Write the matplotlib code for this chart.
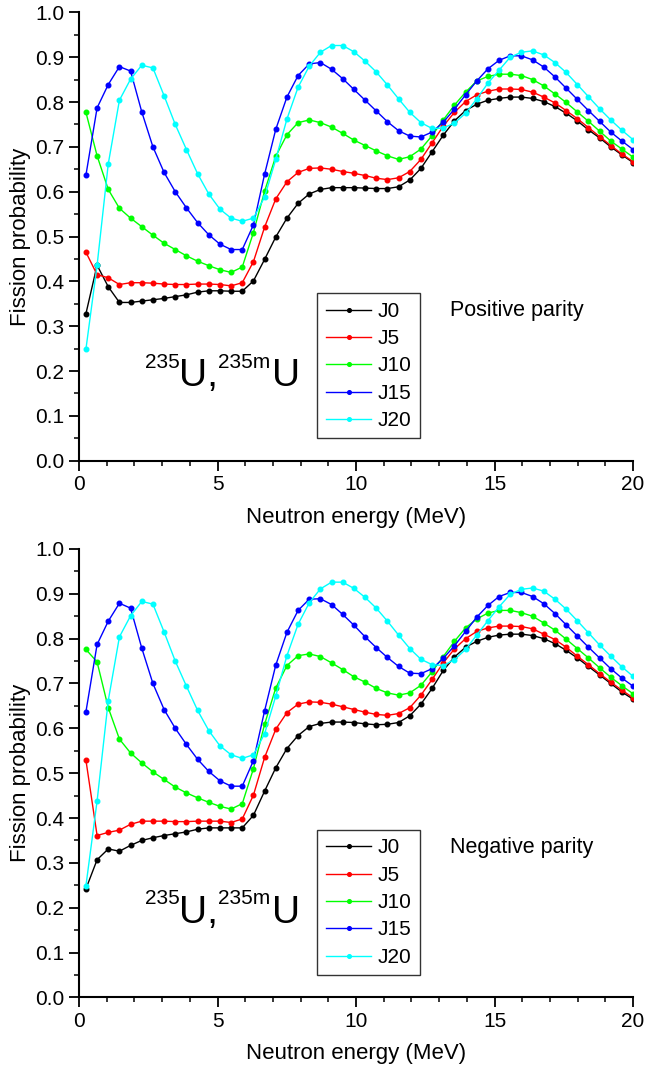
import numpy as np
import matplotlib
matplotlib.use('Agg')
import matplotlib.pyplot as plt
from matplotlib.ticker import MultipleLocator, FormatStrFormatter

plt.rcParams['font.family'] = ['Liberation Sans', 'DejaVu Sans']

# neutron energies (MeV), 50 points
energy = [0.25, 0.653, 1.056, 1.459, 1.862, 2.265, 2.668, 3.071, 3.474, 3.878,
          4.281, 4.684, 5.087, 5.490, 5.893, 6.296, 6.699, 7.102, 7.505, 7.908,
          8.311, 8.714, 9.117, 9.520, 9.923, 10.327, 10.730, 11.133, 11.536, 11.939,
          12.342, 12.745, 13.148, 13.551, 13.954, 14.357, 14.760, 15.163, 15.566, 15.969,
          16.372, 16.776, 17.179, 17.582, 17.985, 18.388, 18.791, 19.194, 19.597, 20.0]

labels = ['J0', 'J5', 'J10', 'J15', 'J20']
colors = ['black', 'red', '#00ff00', 'blue', 'cyan']

# positive parity
pos_J0 = [.328, .436, .388, .353, .353, .356, .359, .362, .366, .370, .376, .379, .379, .378, .378, .401, .449,
          .499, .541, .574, .595, .605, .609, .609, .609, .608, .607, .607, .611, .626, .652, .689, .726, .758,
          .781, .795, .804, .808, .811, .811, .808, .801, .790, .775, .758, .738, .720, .700, .682, .665]
pos_J5 = [.465, .415, .408, .393, .397, .397, .396, .394, .393, .393, .394, .394, .393, .390, .397, .444, .521,
          .584, .622, .643, .652, .653, .650, .645, .641, .636, .630, .627, .631, .645, .672, .709, .746, .777,
          .801, .816, .824, .829, .829, .828, .822, .811, .798, .781, .763, .743, .723, .703, .684, .667]
pos_J10 = [.777, .680, .605, .563, .541, .522, .503, .485, .471, .457, .445, .435, .426, .420, .432, .509, .601,
           .679, .727, .754, .760, .754, .744, .730, .715, .703, .691, .680, .672, .678, .695, .725, .760, .793,
           .822, .847, .857, .862, .862, .859, .850, .836, .818, .799, .778, .757, .735, .713, .695, .677]
pos_J15 = [.637, .787, .839, .879, .869, .778, .700, .643, .600, .564, .531, .504, .483, .471, .471, .526, .639,
           .739, .811, .859, .885, .888, .873, .852, .828, .804, .780, .756, .736, .724, .722, .733, .755, .784,
           .816, .847, .874, .893, .903, .903, .894, .878, .856, .831, .806, .781, .757, .733, .713, .694]
pos_J20 = [.249, .436, .662, .804, .851, .882, .876, .814, .750, .694, .640, .595, .561, .541, .534, .541, .588,
           .672, .762, .833, .880, .911, .926, .926, .912, .891, .867, .838, .807, .777, .754, .741, .742, .753,
           .775, .807, .842, .871, .900, .911, .914, .905, .888, .866, .839, .812, .785, .760, .737, .716]

# negative parity
neg_J0 = [.242, .307, .331, .326, .339, .350, .356, .361, .365, .369, .375, .378, .378, .378, .378, .406, .460,
          .512, .555, .584, .604, .611, .614, .614, .613, .610, .608, .609, .613, .628, .654, .689, .729, .759,
          .781, .794, .803, .808, .810, .810, .807, .800, .789, .774, .757, .738, .719, .700, .681, .665]
neg_J5 = [.529, .361, .368, .373, .386, .393, .393, .393, .392, .392, .393, .393, .393, .390, .398, .451, .535,
          .598, .635, .654, .659, .658, .654, .648, .642, .636, .631, .629, .633, .646, .674, .709, .746, .777,
          .800, .816, .824, .828, .828, .827, .822, .810, .798, .781, .761, .742, .722, .703, .685, .668]
neg_J10 = [.776, .748, .646, .576, .545, .523, .503, .486, .469, .456, .445, .435, .426, .420, .432, .510, .609,
           .690, .740, .762, .766, .760, .746, .731, .715, .703, .689, .679, .674, .679, .696, .726, .760, .794,
           .824, .844, .857, .863, .863, .858, .850, .835, .819, .799, .778, .757, .735, .714, .695, .677]
neg_J15 = [.637, .787, .839, .879, .868, .779, .700, .642, .600, .564, .531, .504, .483, .471, .471, .528, .639,
           .741, .814, .863, .888, .889, .876, .854, .830, .804, .780, .758, .738, .723, .722, .733, .756, .784,
           .816, .848, .874, .894, .903, .903, .894, .878, .856, .831, .806, .781, .757, .733, .712, .694]
neg_J20 = [.249, .438, .662, .804, .851, .883, .877, .815, .750, .694, .640, .595, .561, .541, .533, .541, .588,
           .672, .762, .832, .880, .911, .926, .926, .912, .892, .868, .839, .808, .778, .754, .742, .740, .753,
           .776, .808, .840, .871, .899, .910, .913, .906, .888, .866, .840, .813, .786, .761, .737, .716]


def draw_panel(ax, curves, parity):
    for y, lab, c in zip(curves, labels, colors):
        ax.plot(energy, y, '-o', color=c, lw=1.0, ms=3.3, label=lab)
    ax.set_xlim(0, 20)
    ax.set_ylim(0, 1.0)
    ax.xaxis.set_major_locator(MultipleLocator(5))
    ax.xaxis.set_minor_locator(MultipleLocator(1))
    ax.yaxis.set_major_locator(MultipleLocator(0.1))
    ax.yaxis.set_minor_locator(MultipleLocator(0.05))
    ax.yaxis.set_major_formatter(FormatStrFormatter('%.1f'))
    ax.spines['top'].set_visible(False)
    ax.spines['right'].set_visible(False)
    ax.spines['left'].set_linewidth(1.5)
    ax.spines['bottom'].set_linewidth(1.5)
    ax.tick_params(which='major', direction='out', length=7, width=1.3, labelsize=15, pad=3.5)
    ax.tick_params(which='minor', direction='out', length=3.5, width=1.1)
    ax.set_xlabel('Neutron energy (MeV)', fontsize=16, labelpad=9)
    ax.set_ylabel('Fission probability', fontsize=16, labelpad=3)
    leg = ax.legend(loc='upper left', bbox_to_anchor=(0.43, 0.373), borderaxespad=0,
                    fontsize=15, numpoints=1, markerscale=0.8, handlelength=2.2,
                    handletextpad=0.3, labelspacing=0.4, borderpad=0.4, fancybox=False)
    leg.get_frame().set_edgecolor('black')
    leg.get_frame().set_linewidth(1.0)
    ax.text(13.4, 0.334, parity, fontsize=15.5, va='center', ha='left')
    ax.text(2.4, 0.2075, '235', fontsize=15, va='baseline')
    ax.text(3.62, 0.166, 'U,', fontsize=28, va='baseline')
    ax.text(5.0, 0.2075, '235m', fontsize=15, va='baseline')
    ax.text(6.95, 0.166, 'U', fontsize=28, va='baseline')


fig = plt.figure(figsize=(6.46, 10.72), dpi=100)
ax1 = fig.add_axes([0.1223, 0.5702, 0.8577, 0.4183])
ax2 = fig.add_axes([0.1223, 0.0696, 0.8577, 0.4183])

draw_panel(ax1, [pos_J0, pos_J5, pos_J10, pos_J15, pos_J20], 'Positive parity')
draw_panel(ax2, [neg_J0, neg_J5, neg_J10, neg_J15, neg_J20], 'Negative parity')

fig.savefig('out.png', dpi=100)
